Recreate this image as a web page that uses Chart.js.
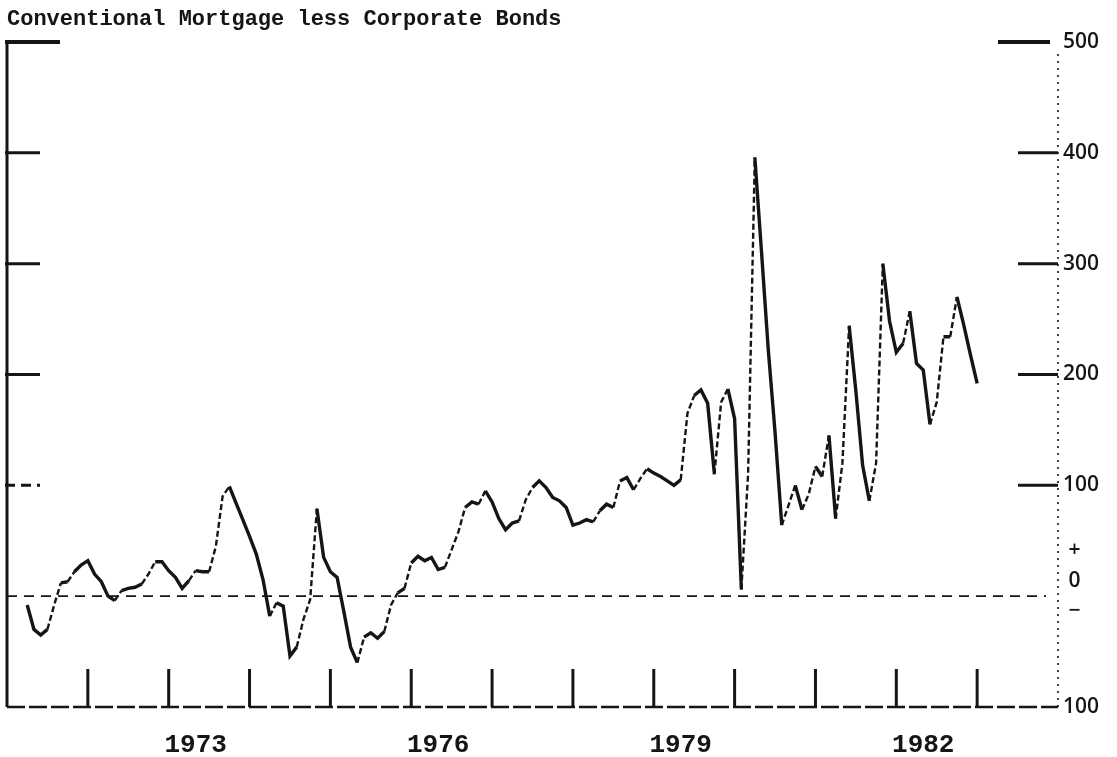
<!DOCTYPE html>
<html>
<head>
<meta charset="utf-8">
<script src="https://cdn.jsdelivr.net/npm/chart.js@4.4.0/dist/chart.umd.min.js"></script>
<style>
  html, body { margin: 0; padding: 0; background: #fff; }
  #wrap { width: 1117px; height: 757px; }
</style>
</head>
<body>
<div id="wrap"><canvas id="spread-chart" width="1117" height="757"></canvas></div>
<script>
// Conventional mortgage rate less corporate bond yield (basis points), monthly
// first observation: April 1971, last: January 1983
const firstYear = 1971;
const firstMonth = 3; // 0-based, April
const spread = [
    -8, -30, -35, -30, -8, 12, 13, 22, 28,                 // 1971 Apr-Dec
    32, 20, 13, 0, -4, 5, 7, 8, 11, 20, 31, 31,            // 1972
    23, 17, 7, 14, 23, 22, 22, 45, 90, 99, 84, 69,         // 1973
    54, 38, 15, -18, -6, -9, -54, -46, -21, -3, 79, 35,    // 1974
    22, 17, -14, -46, -60, -37, -33, -38, -32, -8, 3, 7,   // 1975
    30, 36, 32, 35, 24, 26, 42, 58, 80, 85, 83, 95,        // 1976
    85, 70, 60, 66, 68, 87, 98, 104, 98, 89, 86, 80,       // 1977
    64, 66, 69, 67, 77, 83, 80, 104, 107, 96, 106, 115,    // 1978
    111, 108, 104, 100, 105, 165, 181, 186, 174, 110, 175, 187, // 1979
    160, 6, 110, 396, 310, 222, 148, 64, 82, 100, 78, 92,  // 1980
    117, 108, 145, 70, 120, 244, 185, 118, 86, 120, 300, 248, // 1981
    220, 228, 257, 210, 204, 155, 175, 234, 234, 270, 245, 218, // 1982
    192                                                     // 1983 Jan
];

// year boundaries marked on the bottom axis, and labelled years
const yearMarks = [1972, 1973, 1974, 1975, 1976, 1977, 1978, 1979, 1980, 1981, 1982, 1983];
const yearLabels = [1973, 1976, 1979, 1982];
const valueTicks = [-100, 0, 100, 200, 300, 400, 500];
const sideMarks = [100, 200, 300, 400, 500];

const monthNames = ['Jan', 'Feb', 'Mar', 'Apr', 'May', 'Jun', 'Jul', 'Aug', 'Sep', 'Oct', 'Nov', 'Dec'];

// monthly category labels, Jan 1971 .. Jan 1984
const months = [];
for (let y = 1971; y <= 1984; y++) {
    for (let m = 0; m < 12; m++) {
        if (y === 1984 && m > 0) break;
        months.push(monthNames[m] + ' ' + y);
    }
}

const offset = (firstYear - 1971) * 12 + firstMonth;
const series = months.map((_, i) => (i >= offset && i - offset < spread.length) ? spread[i - offset] : null);

const ink = '#151515';

// axes, zero line and tick marks like the original plot
const axisFrame = {
    id: 'axisFrame',
    beforeDatasetsDraw(chart) {
        const { ctx, chartArea: a, scales: { x, y } } = chart;
        const line = (x1, y1, x2, y2) => {
            ctx.beginPath();
            ctx.moveTo(x1, y1);
            ctx.lineTo(x2, y2);
            ctx.stroke();
        };
        ctx.save();
        ctx.strokeStyle = ink;
        ctx.lineCap = 'butt';

        // left axis
        ctx.lineWidth = 3;
        line(a.left, a.top - 1, a.left, a.bottom);

        // bottom axis
        ctx.lineWidth = 2.5;
        ctx.setLineDash([18, 4]);
        line(a.left, a.bottom, a.right, a.bottom);

        // right axis, dotted
        ctx.lineWidth = 1.6;
        ctx.setLineDash([2, 5]);
        line(a.right, a.top + 12, a.right, a.bottom);

        // zero line
        const y0 = y.getPixelForValue(0);
        ctx.lineWidth = 1.8;
        ctx.setLineDash([10, 7]);
        line(a.left, y0, a.right - 12, y0);

        // marks on left and right side
        sideMarks.forEach(v => {
            const py = y.getPixelForValue(v);
            ctx.setLineDash(v === 100 ? [10, 6] : []);
            ctx.lineWidth = v === 500 ? 4 : 3;
            line(a.left - 2, py, a.left + (v === 500 ? 53 : 33), py);
            ctx.setLineDash([]);
            if (v === 500) {
                line(a.right - 60, py, a.right - 8, py);
            } else {
                line(a.right - 40, py, a.right, py);
            }
        });

        // year marks
        ctx.setLineDash([]);
        ctx.lineWidth = 3;
        yearMarks.forEach(yr => {
            const px = x.getPixelForValue(months.indexOf('Jan ' + yr));
            line(px, a.bottom - 38, px, a.bottom);
        });
        ctx.restore();
    }
};

// rising stretches are drawn thin and broken in the original
function rising(c) {
    return c.p1.parsed.y - c.p0.parsed.y > 8;
}

const canvas = document.getElementById('spread-chart');
new Chart(canvas.getContext('2d'), {
    type: 'line',
    data: {
        labels: months,
        datasets: [{
            data: series,
            borderColor: ink,
            borderWidth: 3.4,
            pointRadius: 0,
            tension: 0,
            spanGaps: false,
            segment: {
                borderDash: c => rising(c) ? [6, 3] : undefined,
                borderWidth: c => rising(c) ? 2.4 : undefined
            }
        }]
    },
    options: {
        responsive: false,
        animation: false,
        layout: { padding: { left: 7, right: 0, top: 0, bottom: 0 } },
        plugins: {
            legend: { display: false },
            tooltip: { enabled: false },
            title: {
                display: true,
                text: 'Conventional Mortgage less Corporate Bonds',
                align: 'start',
                color: ink,
                font: { family: '"Liberation Mono", monospace', size: 22, weight: 'bold' },
                padding: { top: 6, bottom: 9.6 }
            }
        },
        scales: {
            x: {
                type: 'category',
                grid: { display: false, drawTicks: false },
                border: { display: false },
                ticks: {
                    autoSkip: false,
                    maxRotation: 0,
                    padding: 23,
                    color: ink,
                    font: { family: '"Liberation Mono", monospace', size: 26, weight: 'bold' },
                    callback: function(value) {
                        const label = this.getLabelForValue(value);
                        const [mon, yr] = label.split(' ');
                        return (mon === 'May' && yearLabels.includes(+yr)) ? yr : '';
                    }
                },
                afterFit: scale => {
                    scale.height = 50;
                    scale.paddingLeft = 0;
                    scale.paddingRight = 0;
                }
            },
            y: {
                position: 'right',
                min: -100,
                max: 500,
                afterBuildTicks: scale => { scale.ticks = valueTicks.map(v => ({ value: v })); },
                grid: { display: false, drawTicks: false },
                border: { display: false },
                ticks: {
                    autoSkip: false,
                    padding: 5,
                    color: ink,
                    font: { family: '"Open Sans", sans-serif', size: 21, weight: '600', lineHeight: 1.45 },
                    callback: v => {
                        if (v === 0) return [' +', ' 0', ' \u2212', ''];
                        if (v === -100) return '100';
                        return String(v);
                    }
                },
                afterFit: scale => { scale.width = 59; }
            }
        }
    },
    plugins: [axisFrame]
});
</script>
</body>
</html>
